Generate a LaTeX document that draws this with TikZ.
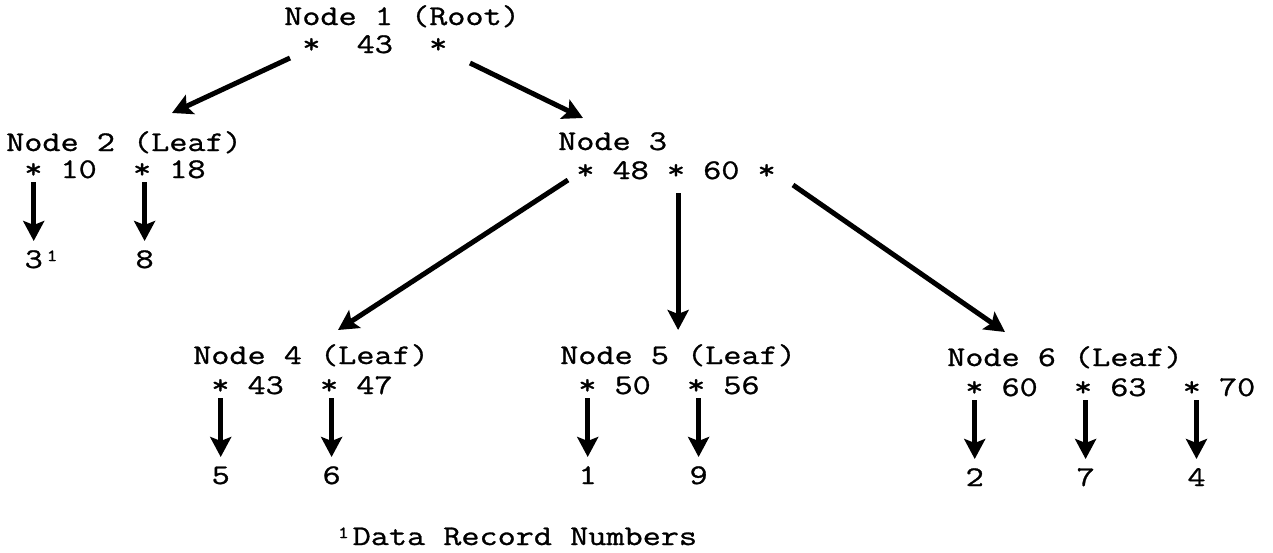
\documentclass[tikz,border=0pt]{standalone}
\usepackage{fontspec}
\usetikzlibrary{arrows.meta,calc}
% typewriter face, widened so one cell is 0.525em x 1.235
\newfontfamily\typefont[FakeStretch=1.235,FakeBold=1]{Latin Modern Mono}
% advance of one character cell
\def\cw{18.48}
% one blank cell
\newcommand\bl{\hphantom{0}}
% raised footnote mark filling one cell
\newcommand\fnmark{\makebox[\cw pt][c]{\raisebox{7pt}{\fontsize{17pt}{17pt}\selectfont 1}}}

\begin{document}
\begin{tikzpicture}[x=1pt,y=-1pt,
  txt/.style={font={\typefont\fontsize{28.5pt}{29pt}\selectfont}, inner sep=0pt, anchor=base west},
  ptr/.style={line width=5pt, -{Stealth[length=20pt,width=21pt,inset=4pt]}}]
\useasboundingbox (0,0) rectangle (1273,552);

% tree nodes: heading line and key line
\node[txt] (n1a) at (284,25)  {Node\bl1\bl(Root)};
\node[txt] (n1b) at (284,53)  {\bl*\bl\bl43\bl\bl*};

\node[txt] (n2a) at (6,151)   {Node\bl2\bl(Leaf)};
\node[txt] (n2b) at (6,178)   {\bl*\bl10\bl\bl*\bl18};

\node[txt] (n3a) at (558,150) {Node\bl3};
\node[txt] (n3b) at (558,179) {\bl*\bl48\bl*\bl60\bl*};

\node[txt] (n4a) at (193,364) {Node\bl4\bl(Leaf)};
\node[txt] (n4b) at (193,394) {\bl*\bl43\bl\bl*\bl47};

\node[txt] (n5a) at (560,364) {Node\bl5\bl(Leaf)};
\node[txt] (n5b) at (560,394) {\bl*\bl50\bl\bl*\bl56};

\node[txt] (n6a) at (947,366) {Node\bl6\bl(Leaf)};
\node[txt] (n6b) at (947,396) {\bl*\bl60\bl\bl*\bl63\bl\bl*\bl70};

\node[txt] (note) at (334,545) {\fnmark Data\bl Record\bl Numbers};

% links between tree nodes
\draw[ptr] ($(n1b.base west)+(6,5)$)    -- ($(n2a.base west)+(166,-38)$);
\draw[ptr] ($(n1b.base west)+(186,10)$) -- ($(n3a.base west)+(25,-32)$);
\draw[ptr] ($(n3b.base west)+(10,1)$)   -- ($(n4a.base west)+(145,-34)$);
\draw[ptr] ($(n3b.base west)+({6.5*\cw},14)$) -- ($(n5a.base west)+({6.5*\cw-2},-34)$);
\draw[ptr] ($(n3b.base west)+(235,6)$)  -- ($(n6a.base west)+(58,-34)$);

% leaf pointers to data record numbers
\foreach \k/\c/\r in {n2b/1/3\fnmark, n2b/7/8, n4b/1/5, n4b/7/6, n5b/1/1, n5b/7/9,
                      n6b/1/2, n6b/7/7, n6b/13/4} {
  \node[txt] (\k-\c) at ($(\k.base west)+({\c*\cw},90)$) {\r};
  \draw[ptr] ($(\k.base west)+({(\c+0.5)*\cw},4)$) -- ($(\k-\c.base west)+({0.5*\cw},-27)$);
}
\end{tikzpicture}
\end{document}
